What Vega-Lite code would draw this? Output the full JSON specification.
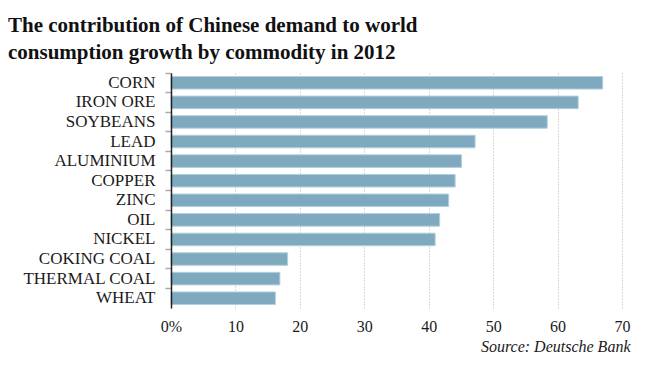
{
  "$schema": "https://vega.github.io/schema/vega-lite/v6.json",
  "autosize": "none",
  "width": 451,
  "height": 235,
  "padding": {"left": 171, "top": 73, "right": 28, "bottom": 58},
  "background": "white",
  "title": {
    "text": ["The contribution of Chinese demand to world", "consumption growth by commodity in 2012"],
    "anchor": "start",
    "frame": "group",
    "dx": -163,
    "offset": -8,
    "baseline": "alphabetic",
    "font": "Liberation Serif",
    "fontSize": 21,
    "fontWeight": "bold",
    "lineHeight": 27,
    "color": "#111111"
  },
  "data": {
    "values": [
      {"commodity": "CORN", "value": 67.0},
      {"commodity": "IRON ORE", "value": 63.2},
      {"commodity": "SOYBEANS", "value": 58.4},
      {"commodity": "LEAD", "value": 47.2},
      {"commodity": "ALUMINIUM", "value": 45.1},
      {"commodity": "COPPER", "value": 44.1},
      {"commodity": "ZINC", "value": 43.1},
      {"commodity": "OIL", "value": 41.7},
      {"commodity": "NICKEL", "value": 41.0},
      {"commodity": "COKING COAL", "value": 18.1},
      {"commodity": "THERMAL COAL", "value": 16.9},
      {"commodity": "WHEAT", "value": 16.2}
    ]
  },
  "mark": {"type": "bar", "height": {"band": 0.64}, "fill": "#7ea9bf", "stroke": "#b4cfdc", "strokeWidth": 1},
  "encoding": {
    "y": {
      "field": "commodity",
      "type": "nominal",
      "sort": null,
      "scale": {"paddingInner": 0, "paddingOuter": 0},
      "axis": {
        "title": null,
        "bandPosition": 0,
        "labelFont": "Liberation Serif",
        "labelFontSize": 17,
        "labelColor": "#1a1a1a",
        "labelPadding": 10,
        "labelBaseline": "middle",
        "tickSize": 6,
        "tickColor": "#aaaaaa",
        "tickWidth": 1.5,
        "domainColor": "#222222",
        "domainWidth": 1.5,
        "grid": false,
        "zindex": 1
      }
    },
    "x": {
      "field": "value",
      "type": "quantitative",
      "scale": {"domain": [0, 70], "nice": false},
      "axis": {
        "values": [0, 10, 20, 30, 40, 50, 60, 70],
        "labelExpr": "datum.value == 0 ? '0%' : datum.label",
        "labelFlush": false,
        "labelFont": "Liberation Serif",
        "labelFontSize": 16,
        "labelColor": "#1a1a1a",
        "labelPadding": 10,
        "domain": false,
        "ticks": false,
        "grid": true,
        "gridColor": "#b5b5b5",
        "gridDash": [1, 2],
        "gridWidth": 1,
        "title": "Source: Deutsche Bank",
        "titleFont": "Liberation Serif",
        "titleFontStyle": "italic",
        "titleFontWeight": "normal",
        "titleFontSize": 16,
        "titleColor": "#1a1a1a",
        "titleAlign": "right",
        "titleBaseline": "alphabetic",
        "titleX": 459,
        "titleY": 43
      }
    }
  },
  "config": {"view": {"stroke": null}}
}
